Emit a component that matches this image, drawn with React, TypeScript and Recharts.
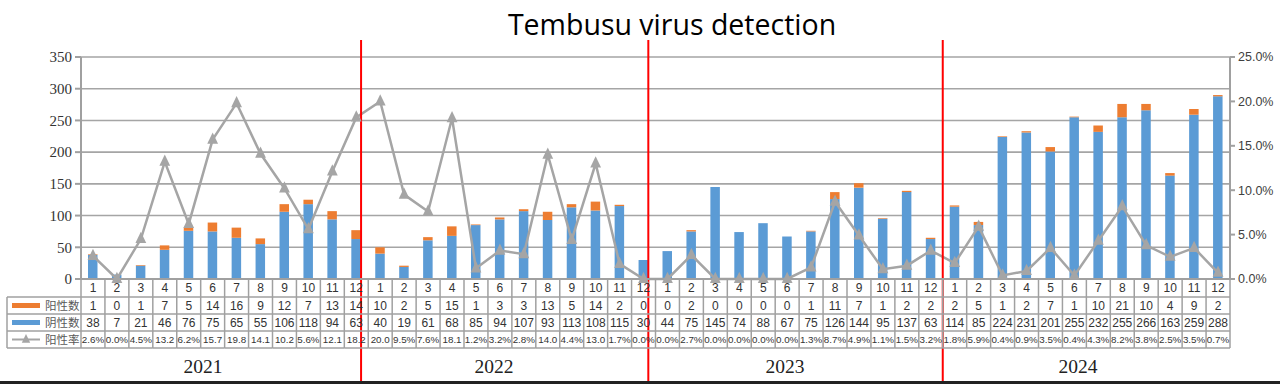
import React from 'react';
import { ComposedChart, Bar, Line, XAxis, YAxis, CartesianGrid, ReferenceLine } from 'recharts';

const monthLabels = ['1', '2', '3', '4', '5', '6', '7', '8', '9', '10', '11', '12'];
const years = ['2021', '2022', '2023', '2024'];

const positiveCounts = [
  1, 0, 1, 7, 5, 14, 16, 9, 12, 7, 13, 14,
  10, 2, 5, 15, 1, 3, 3, 13, 5, 14, 2, 0,
  0, 2, 0, 0, 0, 0, 1, 11, 7, 1, 2, 2,
  2, 5, 1, 2, 7, 1, 10, 21, 10, 4, 9, 2,
];
const negativeCounts = [
  38, 7, 21, 46, 76, 75, 65, 55, 106, 118, 94, 63,
  40, 19, 61, 68, 85, 94, 107, 93, 113, 108, 115, 30,
  44, 75, 145, 74, 88, 67, 75, 126, 144, 95, 137, 63,
  114, 85, 224, 231, 201, 255, 232, 255, 266, 163, 259, 288,
];
const positiveRates = [
  2.6, 0.0, 4.5, 13.2, 6.2, 15.7, 19.8, 14.1, 10.2, 5.6, 12.1, 18.2,
  20.0, 9.5, 7.6, 18.1, 1.2, 3.2, 2.8, 14.0, 4.4, 13.0, 1.7, 0.0,
  0.0, 2.7, 0.0, 0.0, 0.0, 0.0, 1.3, 8.7, 4.9, 1.1, 1.5, 3.2,
  1.8, 5.9, 0.4, 0.9, 3.5, 0.4, 4.3, 8.2, 3.8, 2.5, 3.5, 0.7,
];
const leftTicks = [0, 50, 100, 150, 200, 250, 300, 350];
const rightTicks = [0, 5, 10, 15, 20, 25];
// year dividers, in month-slot units counted from the left edge of the plot
const yearDividers = [11.7, 23.7, 36.0];

const categories = years.flatMap((y) => monthLabels.map((m) => ({ year: y, month: m })));
const data = categories.map((c, i) => ({
  key: i,
  month: c.month,
  neg: negativeCounts[i],
  pos: positiveCounts[i],
  rate: positiveRates[i],
}));

const W = 1280;
const H = 384;
const PLOT_L = 81;
const PLOT_R = 1230;
const PLOT_T = 57;
const PLOT_B = 279;
const N = data.length;
const COL_W = (PLOT_R - PLOT_L) / N;

const BLUE = '#5b9bd5';
const ORANGE = '#ed7d31';
const GRAY = '#a5a5a5';
const BORDER = '#a0a0a0';
const ROWS = [0, 18, 35, 52, 69];
const NUM_FONT = "'Liberation Sans', sans-serif";
const CJK_FONT = "'Noto Sans CJK SC', sans-serif";

const fmtRate = (r: number) => (r >= 10 ? r.toFixed(1) : r.toFixed(1) + '%');

const Triangle = (cx: number, cy: number, s: number, fill: string) => (
  <path d={`M${cx},${cy - s * 0.8} L${cx + s * 0.6},${cy + s * 0.45} L${cx - s * 0.6},${cy + s * 0.45} Z`} fill={fill} />
);

const Cell = ({ x, y, text, size = 12 }: { x: number; y: number; text: string; size?: number }) => (
  <text x={x} y={y} dy="0.36em" textAnchor="middle" fontFamily={NUM_FONT} fontSize={size} fill="#333">
    {text}
  </text>
);

const TableTick = (props: any) => {
  const { x, y, payload } = props;
  const i = Number(payload.value);
  const left = x - COL_W / 2;
  const right = x + COL_W / 2;
  const cy = (r: number) => y + (ROWS[r] + ROWS[r + 1]) / 2;
  const legendL = 7;
  return (
    <g>
      <line x1={left} x2={left} y1={y} y2={y + ROWS[4]} stroke={BORDER} strokeWidth={1.5} />
      {i === N - 1 && <line x1={right} x2={right} y1={y} y2={y + ROWS[4]} stroke={BORDER} strokeWidth={1.5} />}
      {ROWS.slice(1).map((r) => (
        <line key={r} x1={left} x2={right} y1={y + r} y2={y + r} stroke={BORDER} strokeWidth={1.5} />
      ))}
      <Cell x={x} y={cy(0)} text={data[i].month} />
      <Cell x={x} y={cy(1)} text={String(positiveCounts[i])} />
      <Cell x={x} y={cy(2)} text={String(negativeCounts[i])} />
      <Cell x={x} y={cy(3)} text={fmtRate(positiveRates[i])} size={9.8} />
      {i === 0 && (
        <g>
          <line x1={legendL} x2={legendL} y1={y + ROWS[1]} y2={y + ROWS[4]} stroke={BORDER} strokeWidth={1.5} />
          {ROWS.slice(1).map((r) => (
            <line key={r} x1={legendL} x2={left} y1={y + r} y2={y + r} stroke={BORDER} strokeWidth={1.5} />
          ))}
          <rect x={12} y={cy(1) - 2.5} width={28} height={5} fill={ORANGE} />
          <rect x={12} y={cy(2) - 2.5} width={28} height={5} fill={BLUE} />
          <line x1={12} x2={40} y1={cy(3)} y2={cy(3)} stroke={GRAY} strokeWidth={2} />
          {Triangle(26, cy(3), 7, GRAY)}
          {['阳性数', '阴性数', '阳性率'].map((t, r) => (
            <text key={t} x={45} y={cy(r + 1)} dy="0.36em" fontFamily={CJK_FONT} fontSize={11.5} fill="#595959">
              {t}
            </text>
          ))}
        </g>
      )}
    </g>
  );
};

const TriangleDot = (props: any) => {
  const { cx, cy, index } = props;
  if (cx == null || cy == null) return <g key={index} />;
  return <g key={index}>{Triangle(cx, cy, 9, GRAY)}</g>;
};

// Reference line sits at the centre of a month slot; shift it by the fractional part of the divider.
const makeDividerShape = (frac: number) => (p: any) => {
  const dx = (frac - 0.5) * COL_W;
  return (
    <line
      x1={p.x1 + dx}
      x2={p.x2 + dx}
      y1={Math.min(p.y1, p.y2) - 17}
      y2={Math.max(p.y1, p.y2) + 105}
      stroke="#ff0000"
      strokeWidth={2}
    />
  );
};

const yearLabelX = [203, 494, 785, 1078];

export default function App() {
  return (
    <div style={{ position: 'absolute', left: 0, top: 0, width: W, height: H, background: '#fff' }}>
      <ComposedChart
        width={W}
        height={H}
        data={data}
        margin={{ top: PLOT_T, right: 0, bottom: H - PLOT_B - ROWS[4] - 1, left: 0 }}
        barCategoryGap={0}
      >
        <CartesianGrid yAxisId="left" vertical={false} stroke={GRAY} strokeWidth={1.6} />
        <XAxis
          dataKey="key"
          type="category"
          interval={0}
          height={ROWS[4] + 1}
          tickSize={0}
          tickMargin={0}
          tickLine={false}
          axisLine={{ stroke: BORDER, strokeWidth: 2 }}
          tick={<TableTick />}
          padding={{ left: 0, right: 0 }}
        />
        <YAxis
          yAxisId="left"
          orientation="left"
          width={PLOT_L}
          domain={[0, 350]}
          ticks={leftTicks}
          interval={0}
          tickSize={6}
          tickMargin={3}
          axisLine={{ stroke: BORDER, strokeWidth: 2 }}
          tickLine={{ stroke: BORDER, strokeWidth: 2 }}
          tick={{ fontFamily: "'Liberation Serif', serif", fontSize: 15, fill: '#333' }}
        />
        <YAxis
          yAxisId="right"
          orientation="right"
          width={W - PLOT_R}
          domain={[0, 25]}
          ticks={rightTicks}
          interval={0}
          tickSize={5}
          tickMargin={3}
          axisLine={{ stroke: BORDER, strokeWidth: 2 }}
          tickLine={{ stroke: BORDER, strokeWidth: 2 }}
          tickFormatter={(v: number) => `${v.toFixed(1)}%`}
          tick={{ fontFamily: "'Liberation Sans', sans-serif", fontSize: 12.5, fill: '#404040', textAnchor: 'start' }}
        />
        <Bar yAxisId="left" dataKey="neg" stackId="s" fill={BLUE} barSize={9.5} isAnimationActive={false} />
        <Bar yAxisId="left" dataKey="pos" stackId="s" fill={ORANGE} barSize={9.5} isAnimationActive={false} />
        <Line
          yAxisId="right"
          dataKey="rate"
          stroke={GRAY}
          strokeWidth={2.5}
          dot={<TriangleDot />}
          activeDot={false}
          isAnimationActive={false}
        />
        {yearDividers.map((d) => (
          <ReferenceLine
            key={d}
            yAxisId="left"
            x={Math.floor(d)}
            ifOverflow="visible"
            shape={makeDividerShape(d - Math.floor(d))}
          />
        ))}
      </ComposedChart>
      <svg
        width={W}
        height={H}
        style={{ position: 'absolute', left: 0, top: 0, pointerEvents: 'none' }}
      >
        <text x={672} y={35} textAnchor="middle" fontFamily="'Open Sans', sans-serif" fontSize={28.5} fill="#000">
          Tembusu virus detection
        </text>
        {years.map((y, k) => (
          <text key={y} x={yearLabelX[k]} y={373} textAnchor="middle" fontFamily="'Liberation Serif', serif" fontSize={19.5} fill="#222">
            {y}
          </text>
        ))}
        <rect x={0} y={381} width={W} height={3} fill="#222" />
      </svg>
    </div>
  );
}
